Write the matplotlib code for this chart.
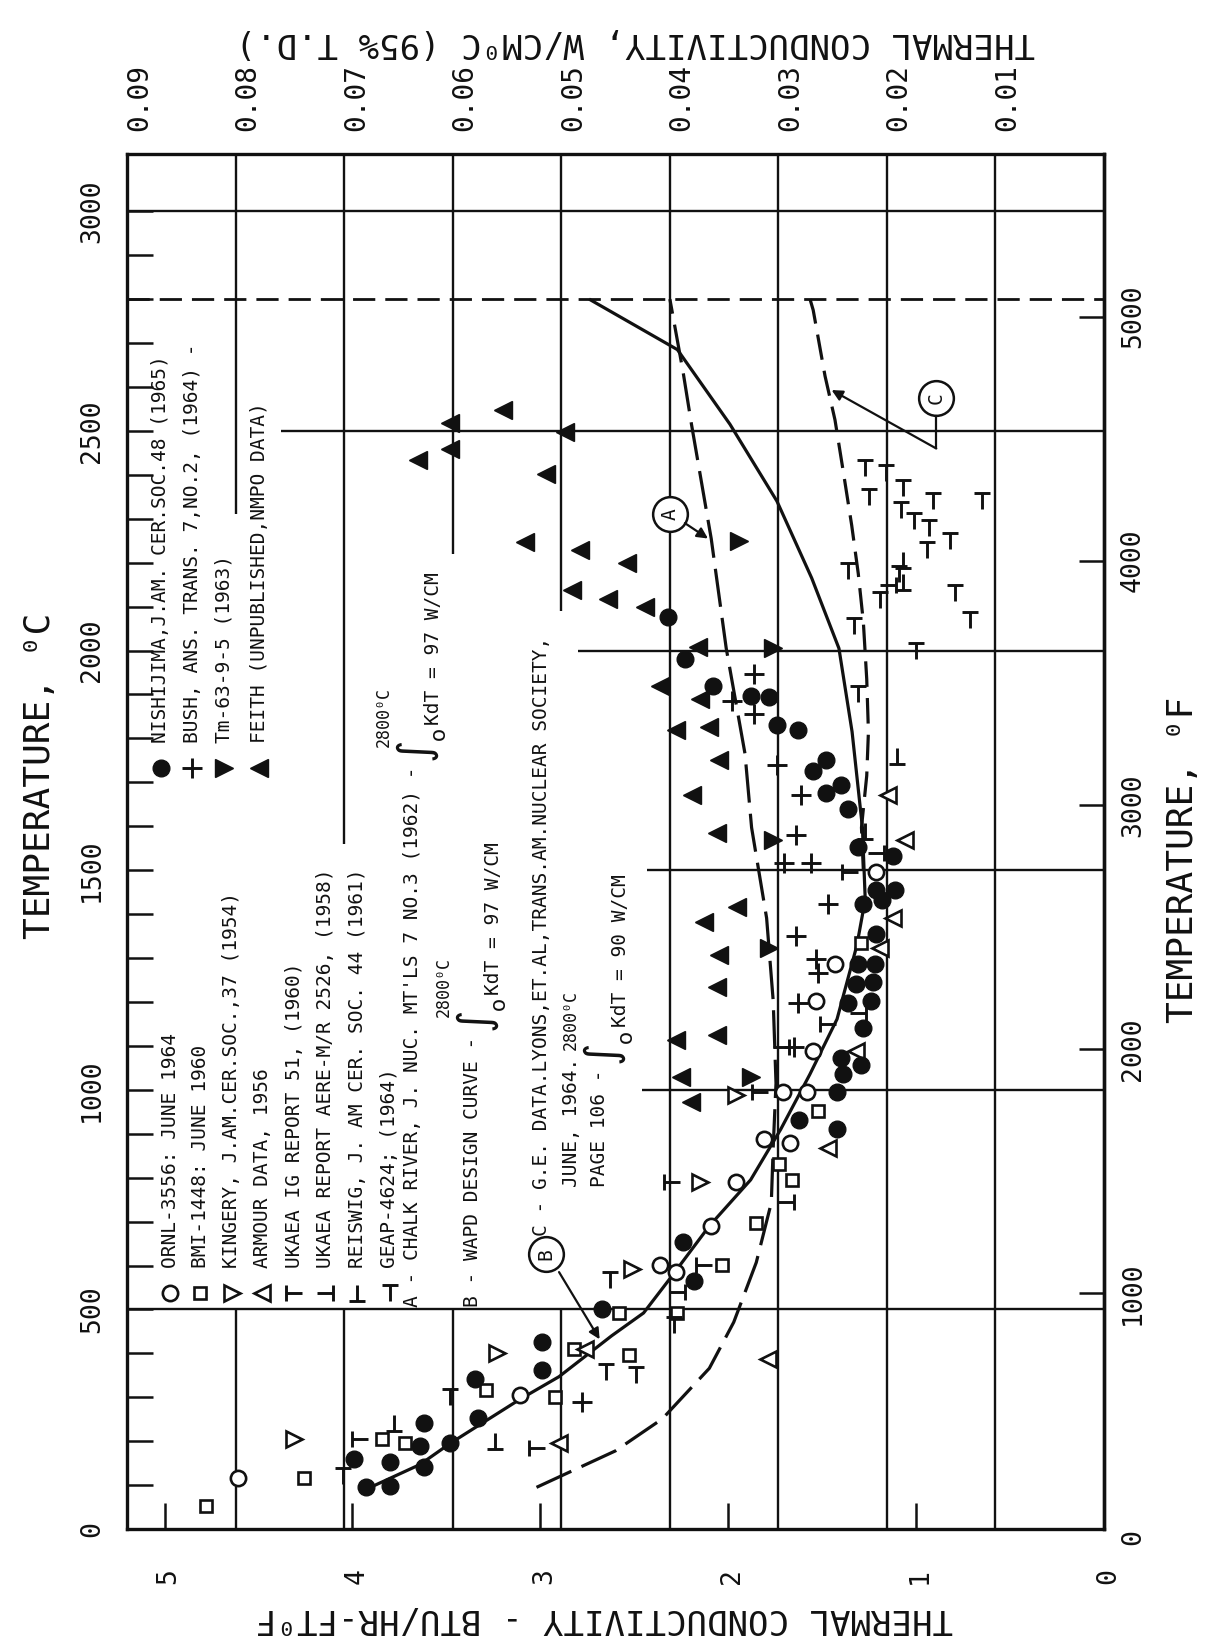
import matplotlib
matplotlib.use("Agg")
import matplotlib.pyplot as plt
from matplotlib.path import Path
from matplotlib.transforms import blended_transform_factory, offset_copy

BTU_PER_WCM = 57.78          # 1 W/cm-C expressed in BTU/hr-ft-F
K_MAX = 0.09 * BTU_PER_WCM   # right-hand end of the conductivity scale
T_MAX = 3130.0

# ---------------- measured data: conductivity (BTU/hr-ft-F) vs temperature (C) ----------------
ornl_k = [4.61, 3.11, 2.36, 2.28, 2.09, 1.96, 1.81, 1.67, 1.71, 1.58, 1.55, 1.53, 1.43, 1.21]
ornl_t = [116, 305, 601, 586, 690, 790, 889, 879, 994, 994, 1088, 1203, 1287, 1496]

bmi_k = [4.78, 4.26, 3.84, 3.72, 3.29, 2.92, 2.82, 2.58, 2.27, 2.53, 2.03, 1.85, 1.73, 1.66, 1.52, 1.29]
bmi_t = [53, 116, 205, 195, 316, 300, 410, 492, 492, 397, 601, 696, 832, 795, 952, 1334]

kingery_k = [4.31, 3.23, 2.51, 2.15, 1.96]
kingery_t = [205, 400, 591, 790, 988]

armour_k = [2.90, 2.76, 1.79, 1.47, 1.32, 1.19, 1.12, 1.06, 1.15]
armour_t = [195, 410, 387, 868, 1088, 1323, 1391, 1569, 1670]

ukaea_ig_k = [3.96, 3.02, 2.30, 2.13, 1.83, 1.47, 1.35]
ukaea_ig_t = [205, 184, 790, 601, 994, 1150, 1496]

ukaea_aere_k = [2.27, 1.69, 1.72, 1.31, 1.21, 1.15]
ukaea_aere_t = [540, 745, 1098, 1175, 1540, 2150]

reiswig_k = [3.78, 3.24, 1.27, 1.10, 1.07, 1.07]
reiswig_t = [242, 200, 1590, 1760, 2155, 2205]

geap_k = [4.05, 3.48, 2.49, 2.65, 2.63, 2.29, 1.31, 1.00, 1.27, 1.16, 1.07, 1.25, 1.08, 1.01,
          0.91, 0.65, 0.93, 0.94, 0.82, 1.09, 1.19, 1.36, 1.33, 0.79, 0.71]
geap_t = [120, 300, 350, 358, 568, 465, 1900, 2000, 2415, 2405, 2370, 2350, 2320, 2295,
          2340, 2340, 2280, 2230, 2250, 2175, 2115, 2180, 2055, 2130, 2070]

nishijima_k = [3.99, 3.93, 3.80, 3.80, 3.62, 3.64, 3.62, 3.48, 3.33, 3.35, 2.99, 2.99, 2.67,
               2.24, 2.18, 1.62, 1.42, 1.42, 1.39, 1.29, 1.40, 1.28, 1.36, 1.24, 1.32, 1.23,
               1.31, 1.22, 1.21, 1.28, 1.18, 1.21, 1.11, 1.12, 1.31, 1.36, 1.48, 1.40, 1.55,
               1.48, 1.63, 1.74, 1.78, 1.88, 2.08, 2.23, 2.32]
nishijima_t = [160, 95, 97, 153, 142, 189, 242, 195, 253, 342, 363, 426, 500,
               654, 565, 931, 910, 996, 1036, 1057, 1072, 1140, 1198, 1203, 1240, 1245,
               1287, 1287, 1355, 1423, 1433, 1454, 1454, 1532, 1553, 1640, 1675, 1695, 1725,
               1750, 1820, 1830, 1895, 1897, 1920, 1980, 2077]

bush_k = [2.78, 1.65, 1.63, 1.52, 1.53, 1.64, 1.47, 1.56, 1.70, 1.64, 1.61, 1.74, 1.86, 1.98, 1.86]
bush_t = [290, 1098, 1198, 1266, 1297, 1349, 1423, 1517, 1517, 1579, 1670, 1740, 1855, 1885, 1947]

tm_k = [1.88, 1.78, 1.76, 1.76, 1.94]
tm_t = [1030, 1323, 1569, 2005, 2250]

feith_k = [2.28, 2.06, 2.25, 2.20, 2.06, 2.05, 2.13, 1.95, 2.06, 2.19, 2.05, 2.28, 2.10, 2.15,
           2.36, 2.16, 2.44, 2.54, 2.64, 2.83, 2.79, 3.08, 2.97, 3.65, 3.48, 3.48, 3.20, 2.87]
feith_t = [1114, 1124, 1030, 973, 1234, 1308, 1381, 1417, 1585, 1670, 1750, 1820, 1825, 1890,
           1920, 2007, 2100, 2200, 2118, 2138, 2228, 2248, 2403, 2433, 2458, 2518, 2548, 2498]

# design / recommended curves
curve_a_k = [3.02, 2.60, 2.35, 2.10, 1.97, 1.85, 1.77, 1.76, 1.745, 1.76, 1.795, 1.875, 1.91,
             2.01, 2.09, 2.195, 2.24, 2.31]
curve_a_t = [95, 178, 251, 366, 471, 607, 743, 868, 1015, 1203, 1391, 1597, 1765,
             2005, 2255, 2515, 2635, 2800]
curve_b_k = [3.93, 3.64, 3.48, 3.11, 2.90, 2.62, 2.45, 2.31, 2.10, 1.88, 1.72, 1.565, 1.42,
             1.315, 1.27, 1.285, 1.34, 1.41, 1.555, 1.74, 1.99, 2.27, 2.74]
curve_b_t = [90, 147, 195, 295, 347, 440, 492, 570, 690, 795, 910, 1035, 1161,
             1328, 1433, 1597, 1815, 2005, 2165, 2340, 2515, 2685, 2800]
curve_c_k = [1.28, 1.29, 1.262, 1.253, 1.262, 1.28, 1.307, 1.342, 1.386, 1.431, 1.484, 1.547, 1.564]
curve_c_t = [1500, 1597, 1715, 1815, 1935, 2065, 2175, 2285, 2405, 2525, 2625, 2775, 2800]

MELTING_C = 2800

# ---------------- axis scales ----------------
celsius_ticks = [0, 500, 1000, 1500, 2000, 2500, 3000]
fahrenheit_ticks = [0, 1000, 2000, 3000, 4000, 5000]
btu_ticks = [5, 4, 3, 2, 1, 0]
wcm_ticks = [0.09, 0.08, 0.07, 0.06, 0.05, 0.04, 0.03, 0.02, 0.01]
wcm_labels = ["0.09", "0.08", "0.07", "0.06", "0.05", "0.04", "0.03", "0.02", "0.01"]

# ---------------- layout ----------------
MONO = "DejaVu Sans Mono"
INK = "#111111"
LW_GRID = 1.7

# grid segments left open around the lettering: (W/cm, [(t0, t1), ...])
vgrid = [(0.08, [(0, 500), (2310, T_MAX)]),
         (0.07, [(0, 500), (1560, T_MAX)]),
         (0.06, [(0, 500), (2220, T_MAX)]),
         (0.05, [(0, 500), (2090, T_MAX)]),
         (0.04, [(0, T_MAX)]), (0.03, [(0, T_MAX)]),
         (0.02, [(0, T_MAX)]), (0.01, [(0, T_MAX)])]
# (temperature C, k from which the line runs to k = 0)
hgrid = [(500, K_MAX), (1000, 2.46), (1500, 2.43), (2000, 2.80), (2500, 4.38), (3000, K_MAX)]


def bar_marker(kind):
    v = {"T": [(-1, 1), (1, 1), (0, 1), (0, -1)],
         "inv": [(-1, -1), (1, -1), (0, -1), (0, 1)],
         "left": [(-1, -1), (-1, 1), (-1, 0), (1, 0)],
         "right": [(1, -1), (1, 1), (1, 0), (-1, 0)]}[kind]
    return Path(v, [Path.MOVETO, Path.LINETO, Path.MOVETO, Path.LINETO])


styles = {
    "ornl": dict(marker="o", ms=11, mfc="white", mec=INK, mew=1.9),
    "bmi": dict(marker="s", ms=9, mfc="white", mec=INK, mew=1.9),
    "kingery": dict(marker=">", ms=11, mfc="white", mec=INK, mew=1.9),
    "armour": dict(marker="<", ms=11, mfc="white", mec=INK, mew=1.9),
    "ig": dict(marker=bar_marker("left"), ms=11, mfc="none", mec=INK, mew=2.1),
    "aere": dict(marker=bar_marker("right"), ms=11, mfc="none", mec=INK, mew=2.1),
    "reiswig": dict(marker=bar_marker("inv"), ms=11, mfc="none", mec=INK, mew=2.1),
    "geap": dict(marker=bar_marker("T"), ms=11, mfc="none", mec=INK, mew=2.1),
    "nishijima": dict(marker="o", ms=12, mfc=INK, mec=INK, mew=1.0),
    "bush": dict(marker="+", ms=14, mfc=INK, mec=INK, mew=2.1),
    "tm": dict(marker=">", ms=12.5, mfc=INK, mec=INK, mew=1.0),
    "feith": dict(marker="<", ms=12.5, mfc=INK, mec=INK, mew=1.0),
}

series = [("ornl", ornl_k, ornl_t), ("bmi", bmi_k, bmi_t), ("kingery", kingery_k, kingery_t),
          ("armour", armour_k, armour_t), ("ig", ukaea_ig_k, ukaea_ig_t),
          ("aere", ukaea_aere_k, ukaea_aere_t), ("reiswig", reiswig_k, reiswig_t),
          ("geap", geap_k, geap_t), ("nishijima", nishijima_k, nishijima_t),
          ("bush", bush_k, bush_t), ("tm", tm_k, tm_t), ("feith", feith_k, feith_t)]

# ---------------- figure ----------------
fig = plt.figure(figsize=(12.21, 16.47), dpi=100, facecolor="white")
ax = fig.add_axes([0.104, 0.0716, 0.800, 0.8348])
ax.set_xlim(K_MAX, 0)
ax.set_ylim(0, T_MAX)
for s in ax.spines.values():
    s.set_linewidth(2.4)
    s.set_color(INK)

# ticks: every 100 C on the left, every BTU unit along the bottom
ax.set_yticks(range(100, 3100, 100))
ax.set_xticks([1, 2, 3, 4, 5])
ax.tick_params(axis="both", direction="in", length=19, width=1.8, color=INK,
               labelleft=False, labelbottom=False)
sec = ax.secondary_yaxis("right", functions=(lambda c: c * 1.8 + 32, lambda f: (f - 32) / 1.8))
sec.set_yticks([1000, 2000, 3000, 4000, 5000])
sec.tick_params(direction="in", length=18, width=1.8, color=INK, labelright=False)
sec.spines["right"].set_linewidth(2.4)

# grid
for w, segs in vgrid:
    for t0, t1 in segs:
        ax.vlines(w * BTU_PER_WCM, t0, t1, color=INK, lw=LW_GRID, zorder=1)
for t, k0 in hgrid:
    ax.hlines(t, k0, 0, color=INK, lw=LW_GRID, zorder=1)
ax.axhline(MELTING_C, color=INK, lw=2.0, ls=(0, (8, 3.6)), zorder=1)

# curves
ax.plot(curve_b_k, curve_b_t, color=INK, lw=2.3, zorder=2, solid_capstyle="butt")
ax.plot(curve_a_k, curve_a_t, color=INK, lw=2.3, ls=(0, (12, 3.5)), zorder=2)
ax.plot(curve_c_k, curve_c_t, color=INK, lw=2.3, ls=(0, (8, 3.5)), zorder=2)

# data
for key, k, t in series:
    ax.plot(k, t, ls="none", zorder=3, **styles[key])

# ---------------- lettering inside the field ----------------
renderer = fig.canvas.get_renderer()
to_data = ax.transData.inverted()


def col_text(k, t, s, size=14, family=MONO):
    return ax.text(k, t, s, rotation=90, ha="center", va="bottom", fontsize=size,
                   family=family, color=INK, zorder=4)


def data_box(txt):
    """(k_high, k_low, t_low, t_high) of a text's box in data units."""
    bb = txt.get_window_extent(renderer)
    (k0, t0), (k1, t1) = to_data.transform([(bb.x0, bb.y0), (bb.x1, bb.y1)])
    return k0, k1, t0, t1


lower_legend = [("ornl", 4.97, "ORNL-3556: JUNE 1964"),
                ("bmi", 4.81, "BMI-1448: JUNE 1960"),
                ("kingery", 4.643, "KINGERY, J.AM.CER.SOC.,37 (1954)"),
                ("armour", 4.48, "ARMOUR DATA, 1956"),
                ("ig", 4.31, "UKAEA IG REPORT 51, (1960)"),
                ("aere", 4.146, "UKAEA REPORT AERE-M/R 2526, (1958)"),
                ("reiswig", 3.973, "REISWIG, J. AM CER. SOC. 44 (1961)"),
                ("geap", 3.80, "GEAP-4624; (1964)")]
for key, kcol, label in lower_legend:
    ax.plot([kcol], [537], ls="none", zorder=3, **styles[key])
    col_text(kcol, 595, label)

upper_legend = [("nishijima", 5.02, "NISHIJIMA,J.AM. CER.SOC.48 (1965)"),
                ("bush", 4.853, "BUSH, ANS. TRANS. 7,NO.2, (1964) -"),
                ("tm", 4.685, "Tm-63-9-5 (1963)"),
                ("feith", 4.497, "FEITH (UNPUBLISHED,NMPO DATA)")]
for key, kcol, label in upper_legend:
    ax.plot([kcol], [1732], ls="none", zorder=3, **styles[key])
    col_text(kcol, 1790, label)


def integral_block(k_main, t_start, lead, value):
    """Lead text, the integral sign with its limits, then the value one line lower."""
    t = data_box(col_text(k_main, t_start, lead))[3] + 8
    sign = ax.text(k_main - 0.05, t, r"$\int_{\mathrm{o}}$", rotation=90, ha="center",
                   va="bottom", fontsize=22, color=INK, zorder=4)
    k_hi, _, _, t_sign = data_box(sign)
    upper = col_text(0, t + 0.45 * (t_sign - t), "2800\u2070C", size=12)
    u_hi, u_lo, _, _ = data_box(upper)
    upper.set_x(k_hi + 0.5 * (u_hi - u_lo) + 0.01)
    col_text(k_main - 0.11, t_sign + 6, "KdT = %d W/CM" % value)


integral_block(3.68, 505, "A - CHALK RIVER, J. NUC. MT'LS 7 NO.3 (1962) -", 97)
integral_block(3.36, 505, "B - WAPD DESIGN CURVE -", 97)
col_text(2.995, 668, "C - G.E. DATA.LYONS,ET.AL,TRANS.AM.NUCLEAR SOCIETY,")
col_text(2.835, 779, "JUNE, 1964.")
integral_block(2.684, 779, "PAGE 106 -", 90)


# circled curve keys with leaders
def key_circle(k, t, letter):
    ax.plot([k], [t], marker="o", ms=25, mfc="white", mec=INK, mew=1.8, zorder=5)
    ax.text(k, t, letter, rotation=90, ha="center", va="center", fontsize=14,
            family=MONO, color=INK, zorder=6)


arrow = dict(arrowstyle="-|>", lw=1.6, color=INK, mutation_scale=16, shrinkA=0, shrinkB=0)
key_circle(2.307, 2310, "A")
ax.annotate("", xy=(2.107, 2255), xytext=(2.23, 2290), arrowprops=arrow, zorder=5)
key_circle(2.969, 626, "B")
ax.annotate("", xy=(2.684, 432), xytext=(2.90, 585), arrowprops=arrow, zorder=5)
key_circle(0.892, 2575, "C")
ax.plot([0.892, 0.892], [2535, 2460], color=INK, lw=1.6, zorder=5)
ax.annotate("", xy=(1.449, 2593), xytext=(0.892, 2460), arrowprops=arrow, zorder=5)

# ---------------- scale labels ----------------
left_tr = blended_transform_factory(ax.transAxes, ax.transData)
bot_tr = blended_transform_factory(ax.transData, ax.transAxes)
for c in celsius_ticks:
    ax.text(-0.036, c, str(c), transform=left_tr, rotation=90, ha="center", va="center",
            fontsize=19, family=MONO, color=INK, clip_on=False)
for f in fahrenheit_ticks:
    ax.text(1.0297, (f - 32) / 1.8, str(f), transform=left_tr, rotation=90, ha="center",
            va="center", fontsize=19, family=MONO, color=INK, clip_on=False)
for b in btu_ticks:
    ax.text(b, -0.034, str(b), transform=offset_copy(bot_tr, fig=fig, x=4, units="dots"),
            rotation=90, ha="center", va="center", fontsize=19, family=MONO, color=INK,
            clip_on=False)
for w, lab in zip(wcm_ticks, wcm_labels):
    ax.text(w * BTU_PER_WCM, 1.0415, lab, transform=offset_copy(bot_tr, fig=fig, x=12, units="dots"),
            rotation=90, ha="center", va="center", fontsize=20, family=MONO, color=INK,
            clip_on=False)

ax.text(0.52, 1.0815, "THERMAL CONDUCTIVITY, W/CM\u2070C (95% T.D.)", transform=ax.transAxes,
        rotation=180, ha="center", va="center", fontsize=24.5, family=MONO, color=INK)
ax.text(0.489, -0.0647, "THERMAL CONDUCTIVITY - BTU/HR-FT\u2070F", transform=ax.transAxes,
        rotation=180, ha="center", va="center", fontsize=24.5, family=MONO, color=INK)
ax.text(-0.089, 0.548, "TEMPERATURE, \u2070C", transform=ax.transAxes, rotation=90,
        ha="center", va="center", fontsize=26, family=MONO, color=INK)
ax.text(1.081, 0.4865, "TEMPERATURE, \u2070F", transform=ax.transAxes, rotation=90,
        ha="center", va="center", fontsize=26, family=MONO, color=INK)

fig.savefig("out.png", dpi=100, facecolor="white")
